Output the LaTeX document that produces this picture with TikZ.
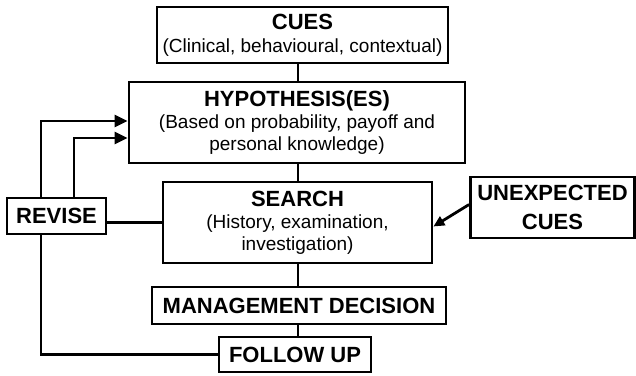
\documentclass[tikz,border=0pt]{standalone}
\usepackage{fontspec}
\setmainfont{Liberation Sans}
\usetikzlibrary{arrows.meta}
\begin{document}
\begin{tikzpicture}[x=1pt,y=-1pt,
  box/.style={draw, line width=2.8pt, inner sep=0pt, align=center, font=\fontsize{19}{22}\selectfont},
  conn/.style={line width=2.8pt},
  arr/.style={conn, -{Triangle[length=13pt,width=12pt]}},
  sarr/.style={conn, -{Triangle[length=11pt,width=10pt]}}
]
\useasboundingbox (0,0) rectangle (636,375);
\newcommand\ttl[1]{{\fontsize{22}{24}\selectfont\bfseries #1}}
\node[box, minimum width=291pt, minimum height=56pt] (cues) at (302.5,35) {\ttl{CUES}\\[1pt](Clinical, behavioural, contextual)};
\node[box, minimum width=336pt, minimum height=81pt] (hyp) at (297,122.5) {\ttl{HYPOTHESIS(ES)}\\(Based on probability, payoff and\\personal knowledge)};
\node[box, minimum width=269pt, minimum height=81pt] (search) at (297.5,222.5) {\ttl{SEARCH}\\(History, examination,\\investigation)};
\node[box, minimum width=294pt, minimum height=37pt] (mgmt) at (299,305.5) {\ttl{MANAGEMENT DECISION}};
\node[box, minimum width=152pt, minimum height=35pt] (follow) at (295,354.5) {\ttl{FOLLOW UP}};
\node[box, minimum width=99pt, minimum height=36pt] (revise) at (56.5,216) {\ttl{REVISE}};
\node[box, minimum width=164pt, minimum height=61pt] (unexp) at (552.5,207.5) {\ttl{UNEXPECTED}\\[7pt]\ttl{CUES}};
\coordinate (spine) at (298,0);
\coordinate (r1) at (41,121);
\coordinate (r2) at (74,138);
\draw[conn] (cues.south -| spine) -- (hyp.north -| spine);
\draw[conn] (hyp.south -| spine) -- (search.north -| spine);
\draw[conn] (search.south -| spine) -- (mgmt.north -| spine);
\draw[conn] (mgmt.south -| spine) -- (follow.north -| spine);
\draw[conn] (search.west) -- (search.west -| revise.east);
\draw[arr] (revise.north -| r1) |- (r1 -| hyp.west);
\draw[arr] (revise.north -| r2) |- (r2 -| hyp.west);
\draw[conn] (revise.south -| r1) |- (follow.west);
\draw[sarr] ([yshift=3pt]unexp.west) -- ([yshift=-4pt]search.east);
\end{tikzpicture}
\end{document}
